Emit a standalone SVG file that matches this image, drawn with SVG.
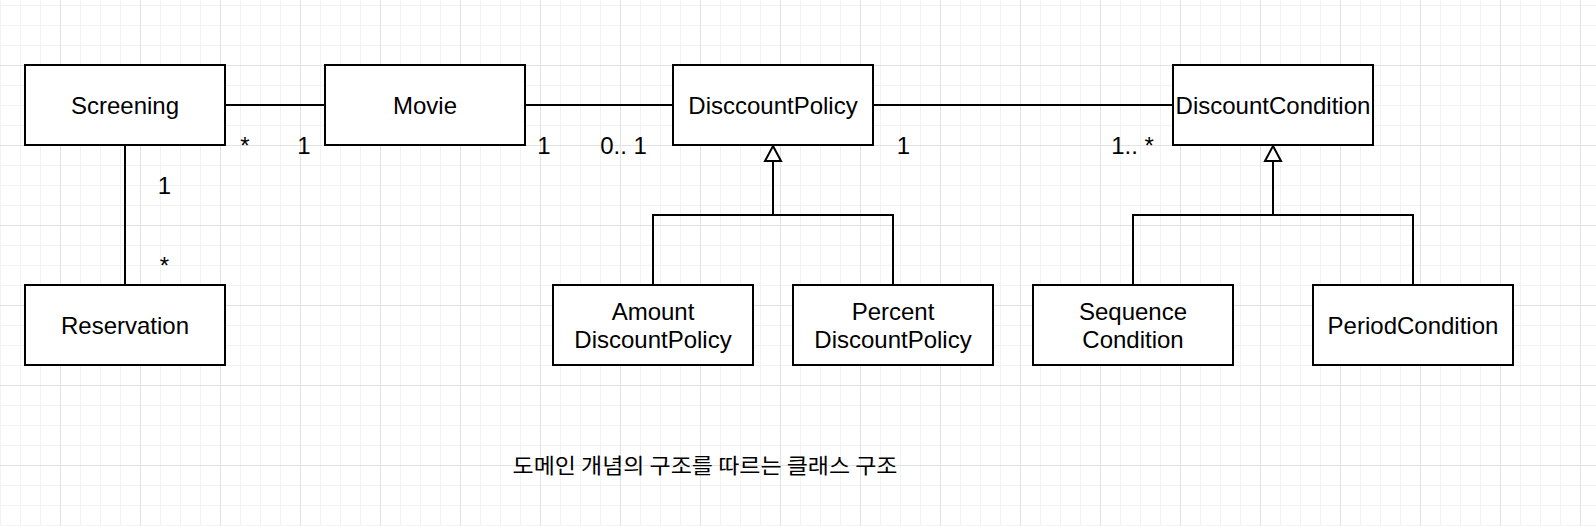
<svg xmlns="http://www.w3.org/2000/svg" width="1596" height="526" viewBox="0 0 1596 526">
<style>
.box{fill:#ffffff;stroke:#000000;stroke-width:2}
.ln{fill:none;stroke:#000000;stroke-width:2}
.t{font-family:"Liberation Sans",Arial,Helvetica,sans-serif;font-size:24px;fill:#000000;text-anchor:middle}
.ko{font-family:"Noto Sans CJK KR",sans-serif;font-size:21px;fill:#000000;text-anchor:middle}
</style>
<defs>
<pattern id="grid" patternUnits="userSpaceOnUse" x="60" y="65" width="80" height="80">
<path d="M20.5 0V80M40.5 0V80M60.5 0V80M0 20.5H80M0 40.5H80M0 60.5H80" stroke="#f2f2f2" stroke-width="1" fill="none"/>
<path d="M0.5 0V80M0 0.5H80" stroke="#e2e2e2" stroke-width="1" fill="none"/>
</pattern>
</defs>
<rect width="1596" height="526" fill="#ffffff"/>
<rect width="1596" height="526" fill="url(#grid)"/>

<g id="connectors">
<path class="ln" d="M225 105H325"/>
<path class="ln" d="M525 105H673"/>
<path class="ln" d="M873 105H1173"/>
<path class="ln" d="M125 145V285"/>
<path class="ln" d="M653 285V215H893V285"/>
<path class="ln" d="M773 215V161"/>
<path d="M773 146L781 161H765Z" fill="#ffffff" stroke="#000000" stroke-width="2"/>
<path class="ln" d="M1133 285V215H1413V285"/>
<path class="ln" d="M1273 215V161"/>
<path d="M1273 146L1281 161H1265Z" fill="#ffffff" stroke="#000000" stroke-width="2"/>
<text class="t" x="245" y="153.5">*</text>
<text class="t" x="304" y="153.5">1</text>
<text class="t" x="544" y="153.5">1</text>
<text class="t" x="623.5" y="153.5">0.. 1</text>
<text class="t" x="903.5" y="153.5">1</text>
<text class="t" x="1132.5" y="153.5">1.. *</text>
<text class="t" x="164.5" y="194">1</text>
<text class="t" x="164.5" y="274">*</text>
</g>

<g id="Screening">
<rect class="box" x="25" y="65" width="200" height="80"/>
<text class="t" x="125" y="113.6">Screening</text>
</g>
<g id="Movie">
<rect class="box" x="325" y="65" width="200" height="80"/>
<text class="t" x="425" y="113.6">Movie</text>
</g>
<g id="DisccountPolicy">
<rect class="box" x="673" y="65" width="200" height="80"/>
<text class="t" x="773" y="113.6">DisccountPolicy</text>
</g>
<g id="DiscountCondition">
<rect class="box" x="1173" y="65" width="200" height="80"/>
<text class="t" x="1273" y="113.6">DiscountCondition</text>
</g>
<g id="Reservation">
<rect class="box" x="25" y="285" width="200" height="80"/>
<text class="t" x="125" y="333.6">Reservation</text>
</g>
<g id="AmountDiscountPolicy">
<rect class="box" x="553" y="285" width="200" height="80"/>
<text class="t" x="653" y="319.5">Amount</text>
<text class="t" x="653" y="347.5">DiscountPolicy</text>
</g>
<g id="PercentDiscountPolicy">
<rect class="box" x="793" y="285" width="200" height="80"/>
<text class="t" x="893" y="319.5">Percent</text>
<text class="t" x="893" y="347.5">DiscountPolicy</text>
</g>
<g id="SequenceCondition">
<rect class="box" x="1033" y="285" width="200" height="80"/>
<text class="t" x="1133" y="319.5">Sequence</text>
<text class="t" x="1133" y="347.5">Condition</text>
</g>
<g id="PeriodCondition">
<rect class="box" x="1313" y="285" width="200" height="80"/>
<text class="t" x="1413" y="333.6">PeriodCondition</text>
</g>
<g id="caption">
<text class="ko" x="705" y="472.5" textLength="385" lengthAdjust="spacingAndGlyphs">도메인 개념의 구조를 따르는 클래스 구조</text>
</g>
</svg>
